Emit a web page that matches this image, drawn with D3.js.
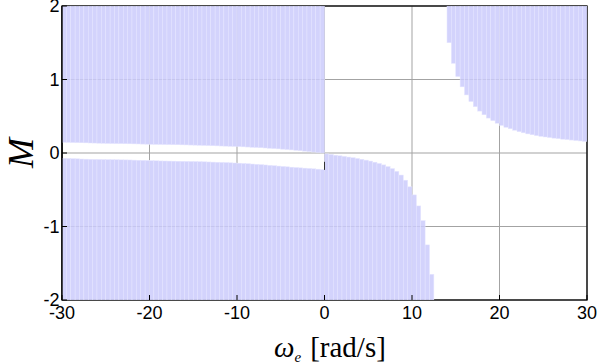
<!DOCTYPE html>
<html>
<head>
<meta charset="utf-8">
<script src="https://cdn.jsdelivr.net/npm/d3@7"></script>
<style>
  body { margin: 0; background: #fff; }
  svg { display: block; }
</style>
</head>
<body>
<div id="chart"></div>
<script>
// bar spacing along omega (rad/s)
const STEP = 0.5

// omega < 0 : filled from the top (M=2) down, and from the bottom (M=-2) up
const leftOmega = [-30, -29.5, -29, -28.5, -28, -27.5, -27, -26.5, -26, -25.5, -25, -24.5, -24, -23.5, -23, -22.5, -22, -21.5, -21, -20.5,
  -20, -19.5, -19, -18.5, -18, -17.5, -17, -16.5, -16, -15.5, -15, -14.5, -14, -13.5, -13, -12.5, -12, -11.5, -11, -10.5,
  -10, -9.5, -9, -8.5, -8, -7.5, -7, -6.5, -6, -5.5, -5, -4.5, -4, -3.5, -3, -2.5, -2, -1.5, -1, -0.5]
const leftUpper = [0.145, 0.144, 0.142, 0.141, 0.139, 0.138, 0.136, 0.135, 0.133, 0.132, 0.130, 0.129, 0.128, 0.127, 0.126, 0.125, 0.124, 0.123, 0.121, 0.120,
  0.118, 0.117, 0.116, 0.115, 0.114, 0.113, 0.112, 0.111, 0.110, 0.108, 0.107, 0.105, 0.103, 0.101, 0.099, 0.097, 0.095, 0.093, 0.091, 0.089,
  0.087, 0.084, 0.081, 0.078, 0.075, 0.072, 0.068, 0.064, 0.060, 0.056, 0.052, 0.047, 0.042, 0.037, 0.031, 0.025, 0.019, 0.013, 0.007, 0.001]
const leftLower = [-0.072, -0.074, -0.077, -0.079, -0.082, -0.084, -0.086, -0.087, -0.088, -0.089, -0.090, -0.091, -0.092, -0.093, -0.094, -0.095, -0.097, -0.099, -0.100, -0.102,
  -0.104, -0.106, -0.108, -0.109, -0.110, -0.111, -0.112, -0.113, -0.114, -0.115, -0.116, -0.118, -0.120, -0.122, -0.124, -0.126, -0.128, -0.130, -0.133, -0.136,
  -0.139, -0.142, -0.146, -0.150, -0.154, -0.158, -0.163, -0.168, -0.173, -0.178, -0.183, -0.188, -0.193, -0.198, -0.202, -0.206, -0.210, -0.215, -0.220, -0.226]

// 0 <= omega < ~12.3 : filled from the bottom up
const midOmega = [0, 0.5, 1, 1.5, 2, 2.5, 3, 3.5, 4, 4.5, 5, 5.5, 6, 6.5, 7, 7.5, 8, 8.5, 9, 9.5, 10, 10.5, 11, 11.5, 12]
const midLower = [-0.012, -0.02, -0.03, -0.038, -0.046, -0.055, -0.064, -0.074, -0.085, -0.097, -0.11, -0.125, -0.142, -0.162, -0.185, -0.212,
  -0.25, -0.3, -0.37, -0.46, -0.57, -0.72, -0.92, -1.25, -1.65]

// omega > ~14 : filled from the top down
const rightOmega = [14, 14.5, 15, 15.5, 16, 16.5, 17, 17.5, 18, 18.5, 19, 19.5, 20, 20.5, 21, 21.5,
  22, 22.5, 23, 23.5, 24, 24.5, 25, 25.5, 26, 26.5, 27, 27.5, 28, 28.5, 29, 29.5]
const rightUpper = [1.5, 1.22, 1.04, 0.9, 0.79, 0.7, 0.63, 0.57, 0.52, 0.475, 0.44, 0.405, 0.375, 0.35, 0.33, 0.31,
  0.29, 0.275, 0.26, 0.248, 0.237, 0.227, 0.218, 0.21, 0.202, 0.195, 0.188, 0.182, 0.176, 0.17, 0.164, 0.158]

const xTicks = [-30, -20, -10, 0, 10, 20, 30]
const yTicks = [-2, -1, 0, 1, 2]

const W = 597, H = 364
const PLOT = {LEFT: 62, RIGHT: 587, TOP: 6, BOTTOM: 300}
const FILL = "#cbcbfc"

const svg = d3.select("#chart").append("svg")
  .attr("width", W)
  .attr("height", H)

const x = d3.scaleLinear().domain([-30, 30]).range([PLOT.LEFT, PLOT.RIGHT])
const y = d3.scaleLinear().domain([-2, 2]).range([PLOT.BOTTOM, PLOT.TOP])

svg.append("clipPath").attr("id", "plotclip")
  .append("rect")
  .attr("x", PLOT.LEFT).attr("y", PLOT.TOP)
  .attr("width", PLOT.RIGHT - PLOT.LEFT).attr("height", PLOT.BOTTOM - PLOT.TOP)

// grid (under the bars)
const grid = svg.append("g").attr("stroke", "#a3a3a3").attr("stroke-width", 1)
grid.selectAll(".gx").data(xTicks).join("line")
  .attr("x1", d => x(d)).attr("x2", d => x(d))
  .attr("y1", PLOT.TOP).attr("y2", PLOT.BOTTOM)
grid.selectAll(".gy").data(yTicks).join("line")
  .attr("x1", PLOT.LEFT).attr("x2", PLOT.RIGHT)
  .attr("y1", d => y(d)).attr("y2", d => y(d))

// top / bottom / right box edges
svg.append("rect")
  .attr("x", PLOT.LEFT).attr("y", PLOT.TOP)
  .attr("width", PLOT.RIGHT - PLOT.LEFT).attr("height", PLOT.BOTTOM - PLOT.TOP)
  .attr("fill", "none").attr("stroke", "#000").attr("stroke-width", 1.3)

// bars
const bars = svg.append("g").attr("clip-path", "url(#plotclip)")
  .attr("fill", FILL).attr("fill-opacity", 0.85)
  .attr("stroke", "#e6e6ff").attr("stroke-width", 0.5)

const bw = x(STEP) - x(0)

// hanging from M=2
const topBars = leftOmega.map((w, i) => ({w, v: leftUpper[i]}))
  .concat(rightOmega.map((w, i) => ({w, v: rightUpper[i]})))
bars.selectAll(".top").data(topBars).join("rect")
  .attr("class", "top")
  .attr("x", d => x(d.w))
  .attr("width", bw)
  .attr("y", y(2))
  .attr("height", d => y(d.v) - y(2))

// standing on M=-2
const bottomBars = leftOmega.map((w, i) => ({w, v: leftLower[i]}))
  .concat(midOmega.map((w, i) => ({w, v: midLower[i]})))
bars.selectAll(".bot").data(bottomBars).join("rect")
  .attr("class", "bot")
  .attr("x", d => x(d.w))
  .attr("width", bw)
  .attr("y", d => y(d.v))
  .attr("height", d => y(-2) - y(d.v))

// small dark edge at omega = 0
svg.append("line")
  .attr("x1", x(0)).attr("x2", x(0))
  .attr("y1", y(-0.12)).attr("y2", y(-0.23))
  .attr("stroke", "#333").attr("stroke-width", 1)

// left axis line drawn on top
svg.append("line")
  .attr("x1", PLOT.LEFT).attr("x2", PLOT.LEFT)
  .attr("y1", PLOT.TOP).attr("y2", PLOT.BOTTOM)
  .attr("stroke", "#000").attr("stroke-width", 1.3)

// inward ticks
const ticks = svg.append("g").attr("stroke", "#000").attr("stroke-width", 1)
ticks.selectAll(".tb").data(xTicks).join("line")
  .attr("x1", d => x(d)).attr("x2", d => x(d))
  .attr("y1", PLOT.BOTTOM).attr("y2", PLOT.BOTTOM - 5)
ticks.selectAll(".tl").data(yTicks).join("line")
  .attr("x1", PLOT.LEFT).attr("x2", PLOT.LEFT + 5)
  .attr("y1", d => y(d)).attr("y2", d => y(d))

// tick labels
const labelFont = "'Liberation Sans', Arial, sans-serif"
svg.append("g").selectAll("text").data(xTicks).join("text")
  .attr("x", d => x(d))
  .attr("y", 319)
  .attr("text-anchor", "middle")
  .attr("font-family", labelFont)
  .attr("font-size", 18)
  .text(d => d)

svg.append("g").selectAll("text").data(yTicks).join("text")
  .attr("x", 59.5)
  .attr("y", d => y(d))
  .attr("dy", "0.36em")
  .attr("text-anchor", "end")
  .attr("font-family", labelFont)
  .attr("font-size", 18)
  .text(d => d)

// axis titles
const serif = "'Liberation Serif', 'Times New Roman', serif"
svg.append("text")
  .attr("transform", "translate(33,153) rotate(-90)")
  .attr("text-anchor", "middle")
  .attr("font-family", serif)
  .attr("font-style", "italic")
  .attr("font-size", 36)
  .text("M")

const xl = svg.append("text")
  .attr("x", 274)
  .attr("y", 357)
  .attr("font-family", serif)
  .attr("font-size", 29)
xl.append("tspan").attr("font-style", "italic").text("ω")
xl.append("tspan").attr("font-style", "italic").attr("font-size", 15).attr("dy", 5).text("e")
xl.append("tspan").attr("dy", -5).attr("dx", 9).text("[rad/s]")
</script>
</body>
</html>
